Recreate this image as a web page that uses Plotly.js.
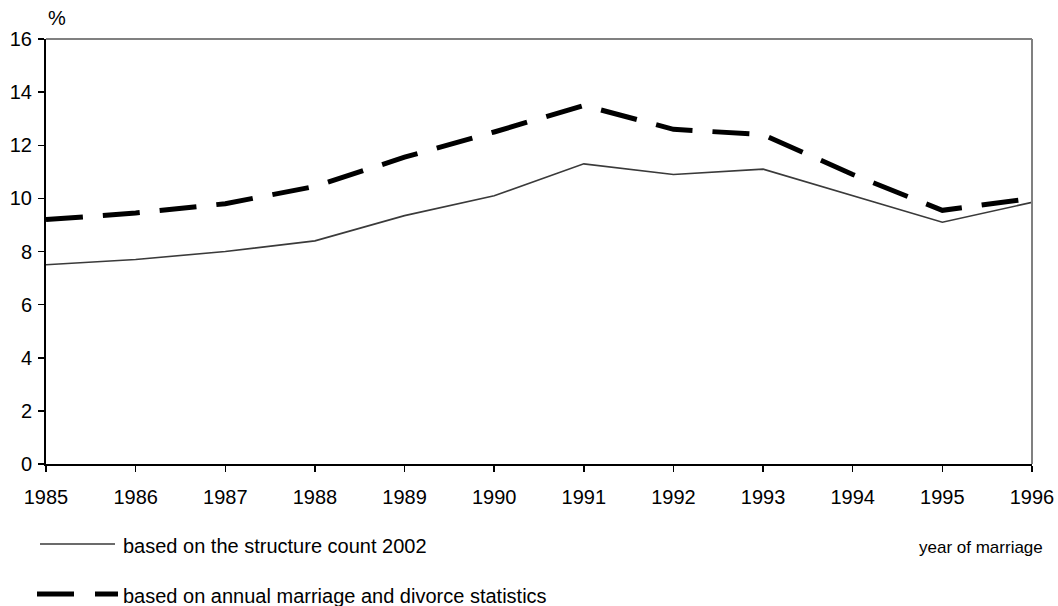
<!DOCTYPE html>
<html>
<head>
<meta charset="utf-8">
<script src="https://cdn.plot.ly/plotly-3.0.1.min.js"></script>
<style>
html,body{margin:0;padding:0;background:#fff;}
#chart{width:1058px;height:606px;}
</style>
</head>
<body>
<div id="chart"></div>
<script>
// ---- data ----
const years = [1985, 1986, 1987, 1988, 1989, 1990, 1991, 1992, 1993, 1994, 1995, 1996];
const structureCount = [7.5, 7.7, 8.0, 8.4, 9.35, 10.1, 11.3, 10.9, 11.1, 10.1, 9.1, 9.85];
const annualStats = [9.2, 9.45, 9.8, 10.45, 11.55, 12.5, 13.5, 12.6, 12.4, 10.9, 9.55, 10.0];
const seriesNames = ['based on the structure count 2002', 'based on annual marriage and divorce statistics'];
const yTicks = [0, 2, 4, 6, 8, 10, 12, 14, 16];
const yUnit = '%';
const xTitle = 'year of marriage';

// ---- layout helpers ----
const W = 1058, H = 606;
const M = {l: 46, r: 26, t: 39, b: 142};
const PW = W - M.l - M.r, PH = H - M.t - M.b;
const px = x => (x - M.l) / PW;          // pixel x -> paper x
const py = y => (H - M.b - y) / PH;      // pixel y -> paper y

const FONT = 'Liberation Sans, Arial, sans-serif';

const traces = [
  {x: years, y: structureCount, name: seriesNames[0], type: 'scatter', mode: 'lines',
   line: {color: '#3a3a3a', width: 1.6}, showlegend: false, hoverinfo: 'skip'},
  {x: years, y: annualStats, name: seriesNames[1], type: 'scatter', mode: 'lines',
   line: {color: '#000', width: 5, dash: '37px,20px'}, showlegend: false, hoverinfo: 'skip'}
];

const layout = {
  width: W, height: H,
  margin: M,
  paper_bgcolor: '#fff', plot_bgcolor: '#fff',
  font: {family: FONT, size: 20, color: '#000'},
  showlegend: false,
  xaxis: {
    range: [years[0], years[years.length - 1]],
    tickvals: years, ticktext: years.map(String),
    showgrid: false, zeroline: false,
    showline: true, linecolor: '#000', linewidth: 2,
    ticks: 'outside', ticklen: 6, tickwidth: 1.5, tickcolor: '#000',
    ticklabelstandoff: 8,
    tickfont: {family: FONT, size: 20, color: '#000'},
    fixedrange: true
  },
  yaxis: {
    range: [0, 16],
    tickvals: yTicks, ticktext: yTicks.map(String),
    showgrid: false, zeroline: false,
    showline: true, linecolor: '#000', linewidth: 2,
    ticks: 'outside', ticklen: 6, tickwidth: 1.5, tickcolor: '#000',
    ticklabelstandoff: 2,
    tickfont: {family: FONT, size: 20, color: '#000'},
    fixedrange: true
  },
  shapes: [
    // gray top and right border
    {type: 'line', xref: 'paper', yref: 'paper', x0: 0, x1: 1, y0: 1, y1: 1,
     line: {color: '#808080', width: 2}},
    {type: 'line', xref: 'paper', yref: 'paper', x0: 1, x1: 1, y0: 0, y1: 1,
     line: {color: '#808080', width: 2}},
    // legend samples
    {type: 'line', xref: 'paper', yref: 'paper', x0: px(40), x1: px(115), y0: py(544), y1: py(544),
     line: {color: '#3a3a3a', width: 1.6}},
    {type: 'line', xref: 'paper', yref: 'paper', x0: px(37), x1: px(118), y0: py(594), y1: py(594),
     line: {color: '#000', width: 5, dash: '37px,21px'}}
  ],
  annotations: [
    {text: yUnit, xref: 'paper', yref: 'paper', x: px(57), y: py(18), xanchor: 'center', yanchor: 'middle',
     showarrow: false, font: {family: FONT, size: 20, color: '#000'}},
    {text: seriesNames[0], xref: 'paper', yref: 'paper', x: px(121), y: py(546), xanchor: 'left', yanchor: 'middle',
     showarrow: false, font: {family: FONT, size: 20, color: '#000'}},
    {text: seriesNames[1], xref: 'paper', yref: 'paper', x: px(121), y: py(596), xanchor: 'left', yanchor: 'middle',
     showarrow: false, font: {family: FONT, size: 20, color: '#000'}},
    {text: xTitle, xref: 'paper', yref: 'paper', x: px(1045), y: py(547), xanchor: 'right', yanchor: 'middle',
     showarrow: false, font: {family: FONT, size: 17, color: '#000'}}
  ]
};

Plotly.newPlot('chart', traces, layout, {displayModeBar: false, staticPlot: true});
</script>
</body>
</html>
